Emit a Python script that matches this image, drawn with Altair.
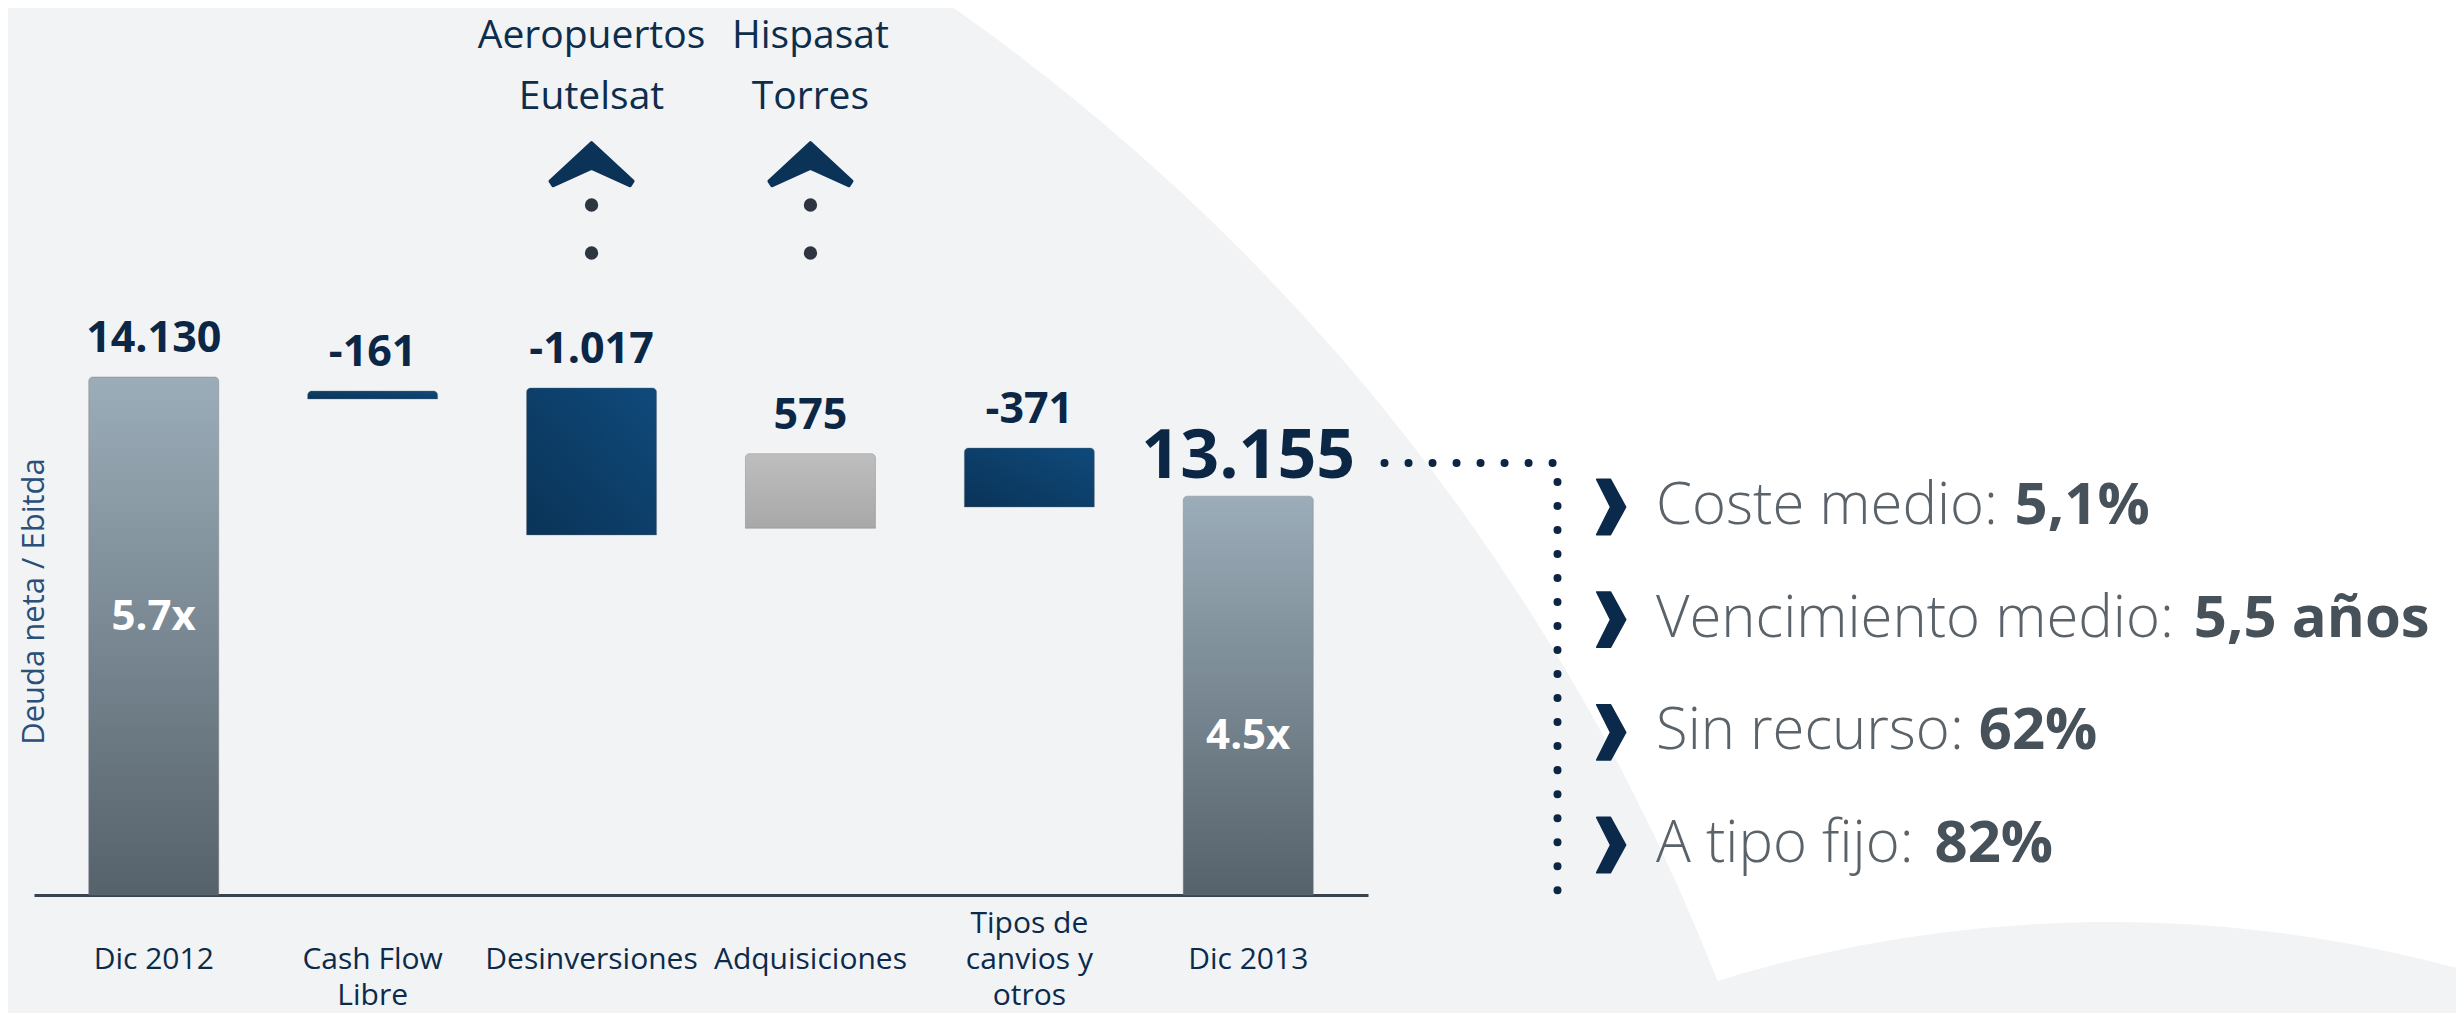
import altair as alt
import pandas as pd

# ---------------- data ----------------
categories = ["Dic 2012", "Cash Flow|Libre", "Desinversiones", "Adquisiciones",
              "Tipos de|canvios y|otros", "Dic 2013"]
amounts = [14130, -161, -1017, 575, -371, 13155]
value_labels = ["14.130", "-161", "-1.017", "575", "-371", "13.155"]
# drawn bar extents on the slide's (non-proportional) scale, 100 = top of Dic 2012
bar_low = [0, 95.75, 69.5, 70.8, 74.9, 0]
bar_high = [100, 97.3, 97.9, 85.2, 86.3, 77.0]
ratio_labels = ["5.7x", "", "", "", "", "4.5x"]

annot_cats = ["Desinversiones", "Adquisiciones"]
annot_lines = [["Aeropuertos", "Eutelsat"], ["Hispasat", "Torres"]]

bullet_text = ["Coste medio: ", "Vencimiento medio: ", "Sin recurso: ", "A tipo fijo: "]
bullet_value = ["5,1%", "5,5 años", "62%", "82%"]

# ---------------- helpers ----------------
FONT = "Open Sans"
NAVY = "#0c2b4b"
BG_GREY = "#f1f3f5"

kinds = []
for i, a in enumerate(amounts):
    if i == 0 or i == len(amounts) - 1:
        kinds.append("total")
    elif a < 0:
        kinds.append("neg")
    else:
        kinds.append("pos")

bars = pd.DataFrame({
    "cat": categories, "amount": amounts, "label": value_labels,
    "low": bar_low, "high": bar_high, "ratio": ratio_labels, "kind": kinds,
})
annot = pd.DataFrame({"cat": annot_cats, "lines": annot_lines})

# approximate Open Sans advance widths (units per 2048 em) to place the bold part
W = {" ": 532, "A": 1296, "C": 1292, "S": 1098, "V": 1217, "c": 975, "d": 1255,
     "e": 1149, "f": 694, "i": 518, "j": 518, "m": 1905, "n": 1257, "o": 1237,
     "p": 1255, "r": 836, "s": 977, "t": 723, "u": 1257, ":": 545}
B_SIZE = 58
TEXT_X = 288
K = 0.97


def text_width(s, size):
    return sum(W.get(ch, 1100) for ch in s) / 2048 * size * K


bullets = pd.DataFrame({
    "item": [f"i{i}" for i in range(len(bullet_text))],
    "text": bullet_text,
    "value": bullet_value,
    "bold_x": [TEXT_X + text_width(t, B_SIZE) for t in bullet_text],
})

one = pd.DataFrame({"k": [0]})

LEFT_W, H = 1334, 887
RIGHT_W, RIGHT_H = 1088, 1005
LEFT_X0 = 33.5          # page x of the left plot origin
RIGHT_X0 = LEFT_X0 + LEFT_W
# decorative background discs of the slide (centre and radius)
DISC_CX, DISC_CY, DISC_R = -282, 1764 - 8, 2147
BAND_CX, BAND_CY, BAND_R = 2109, 2255 - 8, 1333


def white_outside(x0):
    return alt.Chart(one).mark_arc(
        radius=DISC_R + 1300, radius2=DISC_R, theta=0, theta2=1.6,
        fill="white", clip=True, stroke=None
    ).encode(x=alt.value(DISC_CX - x0), y=alt.value(DISC_CY))


y_scale = alt.Scale(domain=[0, 887 / 5.18], nice=False, zero=False)
x_enc = alt.X(
    "cat:N", sort=categories, title=None,
    scale=alt.Scale(paddingInner=0.406, paddingOuter=0.25),
    axis=alt.Axis(labels=False, ticks=False, domainColor="#39434e", domainWidth=3),
)
y_enc = alt.Y(
    "low:Q", scale=y_scale,
    axis=alt.Axis(
        title="Deuda neta / Ebitda", labels=False, ticks=False, domain=False,
        grid=False, titleX=0, titleY=593, titleAngle=270, titleAlign="center",
        titleBaseline="middle", titleFont=FONT, titleFontSize=31,
        titleFontWeight="normal", titleColor="#2a4f78",
    ),
)
x_cat = alt.X("cat:N", sort=categories)

grad_total = {"gradient": "linear", "x1": 0, "y1": 0, "x2": 0, "y2": 1,
              "stops": [{"offset": 0, "color": "#9badb9"},
                        {"offset": 1, "color": "#56626b"}]}
grad_neg = {"gradient": "linear", "x1": 0, "y1": 1, "x2": 1, "y2": 0,
            "stops": [{"offset": 0, "color": "#0a3357"},
                      {"offset": 1, "color": "#0f4a7b"}]}
grad_pos = {"gradient": "linear", "x1": 0, "y1": 0, "x2": 0, "y2": 1,
            "stops": [{"offset": 0, "color": "#bebebe"},
                      {"offset": 1, "color": "#a8a8a8"}]}

base = alt.Chart(bars)
layers = [white_outside(LEFT_X0)]
for kind, g in [("total", grad_total), ("neg", grad_neg), ("pos", grad_pos)]:
    layers.append(
        base.transform_filter(alt.datum.kind == kind)
        .mark_bar(fill=g, cornerRadiusTopLeft=4, cornerRadiusTopRight=4,
                  stroke="#6f7378", strokeWidth=0.6, strokeOpacity=0.6)
        .encode(x=x_enc, y=y_enc, y2="high:Q")
    )

labels_small = (
    base.transform_filter(alt.datum.cat != categories[-1])
    .mark_text(font=FONT, fontSize=43, fontWeight="bold", color="#0b2745",
               baseline="alphabetic", dy=-25)
    .encode(x=x_cat, y=alt.Y("high:Q", scale=y_scale), text="label:N")
)
label_final = (
    base.transform_filter(alt.datum.cat == categories[-1])
    .mark_text(font=FONT, fontSize=68, fontWeight="bold", color="#0b2745",
               baseline="alphabetic", dy=-18)
    .encode(x=x_cat, y=alt.Y("high:Q", scale=y_scale), text="label:N")
)
ratio = (
    base.transform_filter(alt.datum.ratio != "")
    .mark_text(font=FONT, fontSize=42, fontWeight="bold", color="white",
               baseline="middle", dy=240)
    .encode(x=x_cat, y=alt.Y("high:Q", scale=y_scale), text="ratio:N")
)
# category labels under the axis: blocks of up to two lines hang from the same line,
# a third line pushes the block up by one line (as on the slide)
cat_labels = (
    base.transform_calculate(lines="split(datum.cat, '|')")
    .transform_calculate(ly="952 - max(length(datum.lines) - 2, 0) * 36")
    .mark_text(font=FONT, fontSize=30, color=NAVY, baseline="middle", lineHeight=36)
    .encode(x=x_cat, y=alt.Y("ly:Q", scale=None), text=alt.Text("lines:N"))
)

abase = alt.Chart(annot)
ann_text = abase.mark_text(
    font=FONT, fontSize=39, color="#0d2d4d", baseline="alphabetic", lineHeight=61
).encode(x=x_cat, y=alt.value(40), text="lines")
chev_up = "M0,-0.54 L1,0.39 L0.93,0.5 L0,0.08 L-0.93,0.5 L-1,0.39 Z"
ann_chev = abase.mark_point(
    shape=chev_up, filled=True, size=6900, color="#0b3257", opacity=1,
    stroke="#0b3257", strokeWidth=3, strokeJoin="round"
).encode(x=x_cat, y=alt.value(157))
ann_dot1 = abase.mark_point(shape="circle", filled=True, size=177, color="#2d3540", opacity=1
                            ).encode(x=x_cat, y=alt.value(197))
ann_dot2 = abase.mark_point(shape="circle", filled=True, size=177, color="#2d3540", opacity=1
                            ).encode(x=x_cat, y=alt.value(245))

left = alt.layer(*layers, labels_small, label_final, ratio, cat_labels,
                 ann_text, ann_chev, ann_dot1, ann_dot2).properties(
    width=LEFT_W, height=H
)

# ---------------- right panel ----------------
dot_style = dict(strokeDash=[0.01, 24], strokeCap="round", strokeWidth=8, color="#0b2643")
hline = alt.Chart(one).mark_rule(**dot_style).encode(
    x=alt.value(16.5), x2=alt.value(185), y=alt.value(455))
vline = alt.Chart(one).mark_rule(**dot_style).encode(
    x=alt.value(189.5), y=alt.value(474), y2=alt.value(890))
band = alt.Chart(one).mark_arc(
    radius=BAND_R, theta=5.8, theta2=6.75, fill="#f2f3f5", clip=True, stroke=None
).encode(x=alt.value(BAND_CX - RIGHT_X0), y=alt.value(BAND_CY))

item_y = alt.Y("item:N", sort=None, axis=None,
               scale=alt.Scale(type="point", range=[499, 837], padding=0))
rb = alt.Chart(bullets)
chev_right = "M-0.5,-1 L0.0,-1 L0.55,0 L0.0,1 L-0.5,1 L0,0 Z"
chev = rb.mark_point(shape=chev_right, filled=True, size=3069, color="#0b2a4b", opacity=1,
                     stroke="#0b2a4b", strokeWidth=1.5, strokeJoin="round"
                     ).encode(x=alt.value(242.5), y=item_y)
reg = rb.mark_text(align="left", baseline="middle", font=FONT, fontSize=B_SIZE,
                   fontWeight=300, color="#5a626a").encode(
    x=alt.value(TEXT_X), y=item_y, text="text:N")
bold = rb.mark_text(align="left", baseline="middle", font=FONT, fontSize=B_SIZE,
                    fontWeight="bold", color="#47515a").encode(
    x=alt.X("bold_x:Q", scale=None), y=item_y, text="value:N")

right = alt.layer(white_outside(RIGHT_X0), band, hline, vline, chev, reg, bold).properties(
    width=RIGHT_W, height=RIGHT_H
)

chart = alt.hconcat(left, right, spacing=0).properties(
    padding={"left": 10, "top": 0, "right": 0, "bottom": 0},
    background=BG_GREY,
).configure_view(stroke=None)

chart.save("out.html", embed_options={"renderer": "svg", "actions": False})
